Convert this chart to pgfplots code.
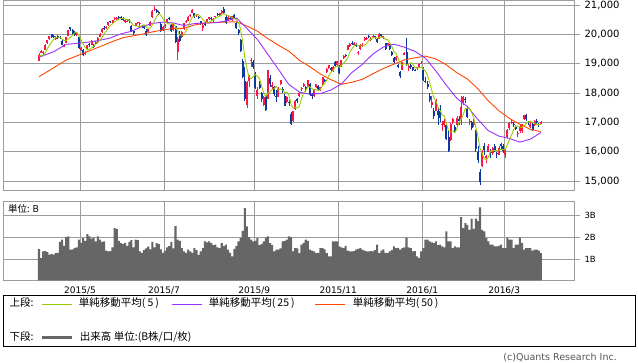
\documentclass[border=0pt]{standalone}
\usepackage{pgfplots}
\pgfplotsset{compat=1.18}
\usepackage{pgfplotstable}
\usepackage{fontspec}
\setmainfont{DejaVu Sans}
\newfontfamily\jp{Noto Sans CJK JP}
\definecolor{cup}{HTML}{FF1448}
\definecolor{cdn}{HTML}{0C3A9C}
\definecolor{ma5}{HTML}{99CC00}
\definecolor{ma25}{HTML}{9B30FF}
\definecolor{ma50}{HTML}{FF4500}
\definecolor{gridc}{HTML}{9C9C9C}
\definecolor{volc}{HTML}{666666}
\definecolor{copyc}{HTML}{555555}

\pgfplotstableread{
i O H L C V
0 19100 19350 19080 19312 1.47
1 19380 19460 19350 19435 1.05
2 19350 19420 19270 19397 1.36
3 19480 19660 19460 19640 1.38
4 19700 19810 19680 19790 1.33
5 19850 19960 19800 19937 1.22
6 20000 20006 19880 19907 1.25
7 19950 19990 19870 19905 1.21
8 19850 19930 19820 19908 1.28
9 19950 19980 19830 19869 1.30
10 19920 19960 19850 19885 1.80
11 19760 19790 19630 19652 1.90
12 19580 19680 19560 19634 1.62
13 19720 19920 19700 19909 2.02
14 19960 20140 19940 20133 2.05
15 20240 20250 20130 20187 1.44
16 20150 20180 19980 20020 1.46
17 20080 20120 19950 19983 1.52
18 19970 20070 19930 20058 1.55
19 19900 19960 19510 19520 1.90
20 19470 19560 19440 19531 1.75
21 19470 19500 19260 19291 1.97
22 19330 19420 19300 19379 1.85
23 19500 19640 19480 19620 2.16
24 19660 19700 19560 19624 2.05
25 19640 19790 19620 19764 1.95
26 19650 19680 19530 19570 2.00
27 19680 19760 19650 19732 1.82
28 19730 19900 19720 19890 2.05
29 19920 20050 19900 20026 1.90
30 20080 20210 20060 20196 1.80
31 20230 20280 20160 20202 1.82
32 20220 20290 20190 20264 1.40
33 20320 20430 20300 20413 1.36
34 20450 20470 20400 20437 1.38
35 20400 20490 20380 20472 1.55
36 20520 20590 20480 20551 2.43
37 20520 20590 20480 20563 2.40
38 20590 20620 20520 20569 1.85
39 20580 20620 20500 20543 1.74
40 20560 20580 20450 20473 1.70
41 20420 20520 20400 20488 1.75
42 20450 20500 20420 20460 1.62
43 20500 20520 20400 20457 1.80
44 20300 20320 20080 20096 1.88
45 20100 20150 19990 20046 1.55
46 20300 20400 20270 20382 1.90
47 20380 20430 20340 20407 1.88
48 20380 20420 20300 20387 1.36
49 20300 20330 20200 20258 1.30
50 20280 20310 20190 20219 1.42
51 20120 20170 19960 19990 1.50
52 20080 20190 20050 20174 1.58
53 20300 20440 20280 20428 1.45
54 20580 20820 20560 20809 1.80
55 20830 20952 20800 20868 1.55
56 20820 20860 20740 20771 1.74
57 20760 20800 20670 20706 1.70
58 20350 20380 20090 20109 1.45
59 20150 20280 20100 20235 1.30
60 20270 20350 20200 20329 1.40
61 20400 20540 20380 20522 1.55
62 20550 20580 20490 20539 1.60
63 20320 20340 20090 20112 1.80
64 20150 20390 20130 20376 1.50
65 20280 20300 19700 19737 2.52
66 19400 19900 19115 19855 1.90
67 20000 20100 19750 19779 1.85
68 19900 20100 19880 20089 1.51
69 20180 20400 20160 20385 1.36
70 20430 20480 20380 20463 1.30
71 20470 20610 20450 20600 1.44
72 20620 20680 20580 20650 1.36
73 20740 20850 20720 20841 1.30
74 20720 20740 20560 20593 1.51
75 20650 20710 20600 20683 1.42
76 20600 20630 20520 20544 1.20
77 20440 20460 20320 20350 1.36
78 20200 20360 20110 20328 1.51
79 20400 20420 20290 20302 1.82
80 20420 20540 20400 20522 1.78
81 20510 20600 20480 20585 1.82
82 20560 20600 20500 20548 1.74
83 20480 20560 20420 20520 1.65
84 20580 20640 20550 20614 1.67
85 20700 20730 20640 20664 1.55
86 20650 20740 20620 20724 1.51
87 20720 20830 20700 20808 1.74
88 20850 20946 20700 20720 1.60
89 20600 20650 20350 20392 1.67
90 20500 20620 20460 20595 1.44
91 20560 20640 20480 20519 1.30
92 20480 20640 20460 20620 1.13
93 20650 20680 20520 20554 1.48
94 20400 20420 20180 20222 1.60
95 20150 20180 19990 20033 1.82
96 19800 19850 19400 19435 1.97
97 19100 19150 18510 18540 2.30
98 18400 18900 17740 17806 3.35
99 17600 18400 17500 18376 2.51
100 18400 18600 18200 18574 2.02
101 19100 19200 18900 19136 1.90
102 19050 19140 18820 18890 1.82
103 18650 18700 18150 18165 1.85
104 17900 18200 17800 18095 1.97
105 18300 18400 18130 18182 1.65
106 18000 18050 17700 17792 1.70
107 17600 17900 17550 17860 1.82
108 17900 17930 17400 17427 2.00
109 17800 18800 17780 18770 2.05
110 18500 18600 18200 18299 1.74
111 18200 18360 18150 18264 1.65
112 18200 18230 17900 17965 1.36
113 17900 18100 17700 17849 1.44
114 17880 18200 17850 18171 1.44
115 18300 18450 18280 18432 1.50
116 18150 18200 18000 18070 1.82
117 17900 17950 17550 17571 1.85
118 17700 17900 17650 17880 1.90
119 17700 17760 17550 17645 2.05
120 17300 17350 16901 16930 2.02
121 17050 17400 17000 17388 1.36
122 17450 17750 17420 17722 1.51
123 17800 17830 17650 17725 1.50
124 17900 18050 17880 18005 1.28
125 18130 18200 18070 18186 1.67
126 18250 18350 18200 18322 1.75
127 18200 18250 18030 18141 1.90
128 18200 18450 18180 18438 1.85
129 18300 18330 17900 17940 1.44
130 17950 18000 17800 17891 1.40
131 17900 18120 17880 18096 1.36
132 18200 18300 18180 18291 1.28
133 18250 18280 18100 18131 1.30
134 18100 18220 18060 18207 1.51
135 18300 18560 18280 18554 1.51
136 18450 18480 18380 18435 1.45
137 18700 18850 18680 18825 1.28
138 18850 18960 18830 18947 1.13
139 18850 18880 18740 18777 1.13
140 18750 18920 18720 18903 1.82
141 19050 19100 18900 18935 1.82
142 18950 19100 18920 19083 1.82
143 18900 18950 18650 18683 1.59
144 18900 19130 18880 19116 1.55
145 19200 19280 19150 19265 1.51
146 19300 19340 19230 19265 1.62
147 19480 19650 19460 19642 1.40
148 19600 19700 19580 19671 1.36
149 19720 19770 19650 19697 1.36
150 19650 19730 19620 19697 1.38
151 19660 19700 19560 19596 1.44
152 19380 19430 19300 19393 1.48
153 19500 19660 19480 19649 1.51
154 19600 19700 19580 19649 1.44
155 19800 19900 19780 19859 1.40
156 19830 19900 19800 19879 1.36
157 19950 19990 19880 19924 1.36
158 19820 19900 19780 19847 1.38
159 19900 19970 19880 19944 1.36
160 19930 19960 19840 19883 1.42
161 19830 19880 19710 19747 1.67
162 19850 20030 19830 20012 1.28
163 20000 20020 19900 19938 1.40
164 19880 19960 19850 19939 1.45
165 19700 19720 19470 19504 1.30
166 19650 19720 19620 19698 1.28
167 19650 19680 19450 19492 1.36
168 19400 19420 19250 19301 1.42
169 19200 19230 19000 19046 1.59
170 19120 19260 19100 19230 1.51
171 18950 19000 18850 18883 1.52
172 18700 18750 18500 18565 1.44
173 18800 19060 18780 19049 1.51
174 19300 19400 19280 19353 1.55
175 19400 19869 18930 18986 2.00
176 18850 18950 18750 18916 1.55
177 18950 19000 18830 18886 1.51
178 18870 18900 18750 18789 1.36
179 18780 18830 18740 18769 1.38
180 18850 18900 18780 18873 1.13
181 18900 19000 18880 18982 1.05
182 19000 19100 18980 19033 1.36
183 18800 18900 18400 18450 1.51
184 18400 18550 18330 18374 1.90
185 18300 18400 18150 18191 1.90
186 17900 18000 17700 17767 1.82
187 17600 17900 17500 17697 1.78
188 17400 17500 17100 17218 1.74
189 17400 17800 17380 17715 1.82
190 17400 17500 16900 17240 1.65
191 17400 17600 17000 17147 1.67
192 16900 17050 16700 16955 1.59
193 16900 17100 16850 17048 1.55
194 16900 16950 16400 16416 2.28
195 16500 16700 15990 16017 1.82
196 16400 16980 16350 16958 1.82
197 17000 17150 16950 17110 1.51
198 16850 16900 16680 16708 1.59
199 16900 17200 16850 17163 1.55
200 17100 17200 16900 17041 1.55
201 17100 17900 16900 17518 2.94
202 17700 17900 17600 17865 2.43
203 17800 17850 17650 17750 2.66
204 17500 17550 17150 17191 2.58
205 17000 17100 16900 17044 2.35
206 17000 17050 16750 16819 2.86
207 16900 17100 16850 17004 2.40
208 16700 16750 16000 16085 2.86
209 16000 16200 15600 15713 2.75
210 15300 15400 14865 14952 3.38
211 15500 16050 15480 16022 2.35
212 16200 16300 15900 16054 2.28
213 15800 15900 15600 15836 1.97
214 16000 16250 15980 16196 1.82
215 16000 16100 15800 15967 1.67
216 15950 16150 15900 16111 1.67
217 16200 16250 16000 16052 1.59
218 15950 16000 15800 15915 1.59
219 15900 16200 15880 16140 1.62
220 16250 16300 16100 16188 1.67
221 16200 16250 15950 16026 1.51
222 15900 16100 15800 16085 1.51
223 16500 16760 16480 16747 2.00
224 16800 17000 16750 16960 1.90
225 16980 17100 16950 17015 1.90
226 16950 17000 16850 16911 1.51
227 16850 16900 16750 16784 1.67
228 16600 16700 16500 16642 1.67
229 16700 16900 16650 16852 2.00
230 16700 16950 16650 16939 1.75
231 17100 17250 17080 17233 1.44
232 17250 17300 17050 17117 1.51
233 17000 17050 16900 16974 1.51
234 16850 17000 16800 16937 1.51
235 16950 17000 16700 16725 1.40
236 16900 17080 16880 17048 1.44
237 17050 17100 16950 17000 1.44
238 16950 16970 16850 16892 1.40
239 16950 17050 16940 17002 1.28
}\ohlc

\pgfplotstableread{
i m
0 19250
1 19280
2 19277
3 19364
4 19515
5 19640
6 19734
7 19836
8 19889
9 19905
10 19895
11 19844
12 19790
13 19790
14 19843
15 19903
16 19977
17 20046
18 20076
19 19954
20 19822
21 19677
22 19556
23 19468
24 19489
25 19536
26 19591
27 19662
28 19716
29 19796
30 19883
31 20009
32 20116
33 20220
34 20302
35 20358
36 20427
37 20487
38 20518
39 20540
40 20540
41 20527
42 20507
43 20484
44 20395
45 20309
46 20288
47 20278
48 20264
49 20296
50 20331
51 20252
52 20206
53 20214
54 20324
55 20454
56 20610
57 20716
58 20653
59 20538
60 20430
61 20380
62 20347
63 20347
64 20376
65 20257
66 20124
67 19972
68 19967
69 19969
70 20114
71 20263
72 20437
73 20588
74 20629
75 20673
76 20662
77 20602
78 20500
79 20441
80 20409
81 20417
82 20457
83 20495
84 20558
85 20586
86 20614
87 20666
88 20706
89 20662
90 20648
91 20607
92 20569
93 20536
94 20502
95 20390
96 20173
97 19757
98 19207
99 18838
100 18546
101 18486
102 18556
103 18628
104 18572
105 18494
106 18225
107 18019
108 17871
109 18006
110 18030
111 18124
112 18145
113 18229
114 18110
115 18136
116 18097
117 18019
118 18025
119 17920
120 17619
121 17483
122 17513
123 17482
124 17554
125 17805
126 17992
127 18076
128 18218
129 18205
130 18146
131 18101
132 18131
133 18070
134 18123
135 18256
136 18324
137 18430
138 18594
139 18708
140 18777
141 18877
142 18929
143 18876
144 18944
145 19016
146 19082
147 19194
148 19392
149 19508
150 19594
151 19661
152 19611
153 19606
154 19597
155 19629
156 19686
157 19792
158 19832
159 19891
160 19895
161 19869
162 19887
163 19905
164 19904
165 19828
166 19818
167 19714
168 19587
169 19408
170 19353
171 19190
172 19005
173 18955
174 19016
175 18967
176 18974
177 19038
178 18986
179 18869
180 18847
181 18860
182 18889
183 18821
184 18742
185 18606
186 18363
187 18096
188 17849
189 17718
190 17527
191 17403
192 17255
193 17221
194 16961
195 16717
196 16679
197 16710
198 16642
199 16791
200 16996
201 17108
202 17259
203 17467
204 17473
205 17474
206 17334
207 17162
208 16829
209 16533
210 16115
211 15955
212 15765
213 15715
214 15812
215 16015
216 16033
217 16032
218 16048
219 16037
220 16081
221 16064
222 16071
223 16237
224 16401
225 16567
226 16744
227 16883
228 16862
229 16841
230 16826
231 16890
232 16957
233 17023
234 17040
235 16997
236 16960
237 16937
238 16920
239 16933
}\mafive

\pgfplotstableread{
i m
0 19217
7 19408
13 19660
19 19694
24 19741
29 19797
34 19877
39 20016
44 20104
49 20266
54 20371
59 20418
64 20386
69 20300
74 20367
79 20391
84 20395
89 20452
94 20558
99 20200
104 19826
109 19316
114 18806
119 18289
124 18032
129 17959
134 17982
139 18102
144 18307
149 18698
154 18976
159 19329
164 19569
169 19661
174 19563
179 19418
184 19188
189 18751
194 18261
199 17816
204 17537
209 17095
214 16714
219 16529
224 16451
229 16325
234 16426
239 16650
}\matwentyfive

\pgfplotstableread{
i m
0 18556
7 18862
13 19125
20 19318
23 19408
29 19578
34 19728
40 19886
49 20003
54 20084
59 20148
64 20201
69 20202
74 20317
79 20381
84 20407
89 20419
94 20429
99 20284
104 20108
109 19855
114 19629
119 19424
124 19116
129 18893
134 18649
139 18454
144 18298
149 18365
154 18467
159 18656
164 18835
169 18984
174 19130
179 19197
184 19259
189 19160
194 18961
199 18690
204 18477
209 18142
214 17732
219 17395
224 17134
229 16931
234 16761
239 16682
}\mafifty

\pgfplotsset{
  panel/.style={
    scale only axis, anchor=south west, width=571.2pt,
    xmin=-17, xmax=255,
    axis line style={draw=gridc, line width=0.8pt},
    xtick={19.5,59.5,102.5,142.5,182.5,221.5},
    xtick style={draw=none},
    xmajorgrids, ymajorgrids,
    grid style={draw=gridc, line width=0.8pt},
    ytick pos=right, tick align=outside, major tick length=5pt,
    ytick style={draw=gridc, line width=0.8pt},
    scaled y ticks=false,
    /pgf/number format/1000 sep={,},
    /pgf/number format/assume math mode=true,
  },
  candle/.style n args={2}{forget plot, draw=none, mark=none,
    error bars/.cd, y dir=plus, y explicit, error mark=none,
    error bar style={draw=#1, draw opacity=1, solid, line width=#2}},
}

\begin{document}
\begin{tikzpicture}
\path[use as bounding box] (0pt,0pt) rectangle (638pt,362pt);

\begin{axis}[panel,
  at={(3.3pt,171.5pt)}, height=189.8pt,
  ymin=14675, ymax=21147,
  xticklabels={},
  ytick={15000,16000,17000,18000,19000,20000,21000},
  yticklabel style={font=\fontsize{10}{12}\selectfont, xshift=1.5pt},
]
% wicks
\addplot[restrict expr to domain={\thisrow{C}-\thisrow{O}}{0:100000}, candle={cup}{0.8pt}]
  table[x=i, y=L, y error expr=\thisrow{H}-\thisrow{L}] {\ohlc};
\addplot[restrict expr to domain={\thisrow{C}-\thisrow{O}}{-100000:-0.5}, candle={cdn}{0.8pt}]
  table[x=i, y=L, y error expr=\thisrow{H}-\thisrow{L}] {\ohlc};
% bodies
\addplot[restrict expr to domain={\thisrow{C}-\thisrow{O}}{0:100000}, candle={cup}{2pt}]
  table[x=i, y=O, y error expr=\thisrow{C}-\thisrow{O}] {\ohlc};
\addplot[restrict expr to domain={\thisrow{C}-\thisrow{O}}{-100000:-0.5}, candle={cdn}{2pt}]
  table[x=i, y=C, y error expr=\thisrow{O}-\thisrow{C}] {\ohlc};
% moving averages
\addplot[forget plot, ma50, line width=0.9pt] table[x=i, y=m] {\mafifty};
\addplot[forget plot, ma25, line width=0.9pt] table[x=i, y=m] {\matwentyfive};
\addplot[forget plot, ma5, line width=0.9pt] table[x=i, y=m] {\mafive};
\end{axis}

\begin{axis}[panel,
  at={(3.3pt,81.7pt)}, height=78.6pt,
  ymin=0.037, ymax=3.642,
  xticklabels={2015/5,2015/7,2015/9,2015/11,2016/1,2016/3},
  xticklabel style={font=\fontsize{9}{10}\selectfont, yshift=2pt},
  ytick={1,2,3}, yticklabels={1B,2B,3B},
  yticklabel style={font=\fontsize{8.5}{10}\selectfont, xshift=1.5pt},
  legend columns=4,
  legend image code/.code={\draw[#1] (0pt,0pt) -- (30pt,0pt);},
  legend style={at={(axis description cs:0,0)}, anchor=north west,
    xshift=6.4pt, yshift=-19.5pt, draw=none, fill=none,
    inner sep=0pt, outer sep=0pt, row sep=24.4pt, column sep=0pt,
    nodes={inner sep=0pt, text height=7pt, text depth=2pt},
    font=\jp\fontsize{10.5}{12}\selectfont},
  legend cell align=left,
]
\addplot[forget plot, ybar, bar width=1, bar shift=0pt, fill=volc, draw=none]
  table[x=i, y=V] {\ohlc};
\node[anchor=west, inner sep=0pt, font=\jp\fontsize{9.5}{11}\selectfont]
  at (axis description cs:0.0082,0.907) {単位: B};
\addlegendimage{empty legend}
\addlegendentry{\makebox[31.3pt][l]{上段:}}
\addlegendimage{ma5, line width=0.9pt}
\addlegendentry{\makebox[98pt][l]{\hspace{5pt}単純移動平均(\kern2pt 5\kern2pt)}}
\addlegendimage{ma25, line width=0.9pt}
\addlegendentry{\makebox[112pt][l]{\hspace{6pt}単純移動平均(\kern2pt 25\kern2pt)}}
\addlegendimage{ma50, line width=0.9pt}
\addlegendentry{\makebox[100pt][l]{\hspace{7pt}単純移動平均(\kern2pt 50\kern2pt)}}
\addlegendimage{empty legend}
\addlegendentry{\makebox[31.3pt][l]{下段:}}
\addlegendimage{volc, line width=3pt}
\addlegendentry{\makebox[98pt][l]{\hspace{6pt}出来高 単位:(B株/口/枚)}}
\addlegendimage{empty legend}
\addlegendentry{}
\addlegendimage{empty legend}
\addlegendentry{}
\end{axis}

\draw[black, line width=0.8pt] (3.3pt,16pt) rectangle (635.7pt,66.7pt);
\node[anchor=east, inner sep=0pt, text=copyc, font=\fontsize{9.5}{11}\selectfont]
  at (617pt,4.5pt) {(c)Quants Research Inc.};
\end{tikzpicture}
\end{document}
